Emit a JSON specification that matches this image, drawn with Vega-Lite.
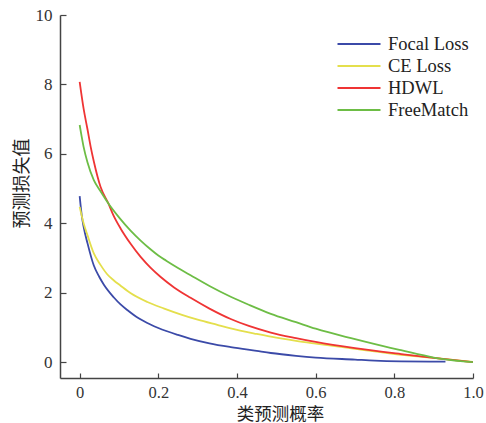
{
  "$schema": "https://vega.github.io/schema/vega-lite/v6.json",
  "autosize": {"type": "none"},
  "padding": {"left": 60, "top": 15, "right": 13, "bottom": 45},
  "width": 413,
  "height": 363,
  "background": "white",
  "config": {"view": {"stroke": null}},
  "datasets": {
    "curves": [
      {"series": "Focal Loss", "p": 0, "loss": 4.78},
      {"series": "Focal Loss", "p": 0.005, "loss": 4.25},
      {"series": "Focal Loss", "p": 0.01, "loss": 3.9},
      {"series": "Focal Loss", "p": 0.02, "loss": 3.42},
      {"series": "Focal Loss", "p": 0.036, "loss": 2.78},
      {"series": "Focal Loss", "p": 0.05, "loss": 2.45},
      {"series": "Focal Loss", "p": 0.062, "loss": 2.22},
      {"series": "Focal Loss", "p": 0.087, "loss": 1.86},
      {"series": "Focal Loss", "p": 0.104, "loss": 1.66},
      {"series": "Focal Loss", "p": 0.121, "loss": 1.5},
      {"series": "Focal Loss", "p": 0.15, "loss": 1.26},
      {"series": "Focal Loss", "p": 0.18, "loss": 1.08},
      {"series": "Focal Loss", "p": 0.2, "loss": 0.98},
      {"series": "Focal Loss", "p": 0.25, "loss": 0.78},
      {"series": "Focal Loss", "p": 0.282, "loss": 0.67},
      {"series": "Focal Loss", "p": 0.33, "loss": 0.54},
      {"series": "Focal Loss", "p": 0.384, "loss": 0.43},
      {"series": "Focal Loss", "p": 0.45, "loss": 0.32},
      {"series": "Focal Loss", "p": 0.486, "loss": 0.26},
      {"series": "Focal Loss", "p": 0.55, "loss": 0.18},
      {"series": "Focal Loss", "p": 0.6, "loss": 0.13},
      {"series": "Focal Loss", "p": 0.7, "loss": 0.07},
      {"series": "Focal Loss", "p": 0.75, "loss": 0.04},
      {"series": "Focal Loss", "p": 0.817, "loss": 0.02},
      {"series": "Focal Loss", "p": 0.93, "loss": 0.01},
      {"series": "CE Loss", "p": 0, "loss": 4.47},
      {"series": "CE Loss", "p": 0.01, "loss": 4.0},
      {"series": "CE Loss", "p": 0.02, "loss": 3.65},
      {"series": "CE Loss", "p": 0.036, "loss": 3.13},
      {"series": "CE Loss", "p": 0.053, "loss": 2.8},
      {"series": "CE Loss", "p": 0.07, "loss": 2.53},
      {"series": "CE Loss", "p": 0.087, "loss": 2.35},
      {"series": "CE Loss", "p": 0.104, "loss": 2.2},
      {"series": "CE Loss", "p": 0.13, "loss": 1.98},
      {"series": "CE Loss", "p": 0.172, "loss": 1.73},
      {"series": "CE Loss", "p": 0.215, "loss": 1.54},
      {"series": "CE Loss", "p": 0.26, "loss": 1.36},
      {"series": "CE Loss", "p": 0.3, "loss": 1.22},
      {"series": "CE Loss", "p": 0.35, "loss": 1.07},
      {"series": "CE Loss", "p": 0.384, "loss": 0.97},
      {"series": "CE Loss", "p": 0.45, "loss": 0.81},
      {"series": "CE Loss", "p": 0.486, "loss": 0.73},
      {"series": "CE Loss", "p": 0.55, "loss": 0.61},
      {"series": "CE Loss", "p": 0.6, "loss": 0.53},
      {"series": "CE Loss", "p": 0.7, "loss": 0.38},
      {"series": "CE Loss", "p": 0.817, "loss": 0.21},
      {"series": "CE Loss", "p": 0.9, "loss": 0.12},
      {"series": "CE Loss", "p": 1.0, "loss": 0.0},
      {"series": "HDWL", "p": 0, "loss": 8.07},
      {"series": "HDWL", "p": 0.01, "loss": 7.3},
      {"series": "HDWL", "p": 0.02, "loss": 6.7},
      {"series": "HDWL", "p": 0.028, "loss": 6.2},
      {"series": "HDWL", "p": 0.036, "loss": 5.78},
      {"series": "HDWL", "p": 0.053, "loss": 5.05},
      {"series": "HDWL", "p": 0.073, "loss": 4.57},
      {"series": "HDWL", "p": 0.085, "loss": 4.25},
      {"series": "HDWL", "p": 0.104, "loss": 3.85},
      {"series": "HDWL", "p": 0.13, "loss": 3.4},
      {"series": "HDWL", "p": 0.155, "loss": 3.03},
      {"series": "HDWL", "p": 0.18, "loss": 2.72},
      {"series": "HDWL", "p": 0.206, "loss": 2.45},
      {"series": "HDWL", "p": 0.24, "loss": 2.15},
      {"series": "HDWL", "p": 0.282, "loss": 1.85},
      {"series": "HDWL", "p": 0.33, "loss": 1.54},
      {"series": "HDWL", "p": 0.384, "loss": 1.24},
      {"series": "HDWL", "p": 0.43, "loss": 1.04},
      {"series": "HDWL", "p": 0.486, "loss": 0.85},
      {"series": "HDWL", "p": 0.55, "loss": 0.69},
      {"series": "HDWL", "p": 0.6, "loss": 0.58},
      {"series": "HDWL", "p": 0.7, "loss": 0.4},
      {"series": "HDWL", "p": 0.817, "loss": 0.23},
      {"series": "HDWL", "p": 0.9, "loss": 0.12},
      {"series": "HDWL", "p": 1.0, "loss": 0.0},
      {"series": "FreeMatch", "p": 0, "loss": 6.83},
      {"series": "FreeMatch", "p": 0.005, "loss": 6.5},
      {"series": "FreeMatch", "p": 0.01, "loss": 6.2},
      {"series": "FreeMatch", "p": 0.02, "loss": 5.75},
      {"series": "FreeMatch", "p": 0.036, "loss": 5.24},
      {"series": "FreeMatch", "p": 0.053, "loss": 4.92},
      {"series": "FreeMatch", "p": 0.073, "loss": 4.57},
      {"series": "FreeMatch", "p": 0.1, "loss": 4.17},
      {"series": "FreeMatch", "p": 0.13, "loss": 3.78},
      {"series": "FreeMatch", "p": 0.155, "loss": 3.5},
      {"series": "FreeMatch", "p": 0.18, "loss": 3.25},
      {"series": "FreeMatch", "p": 0.2, "loss": 3.07},
      {"series": "FreeMatch", "p": 0.22, "loss": 2.92},
      {"series": "FreeMatch", "p": 0.25, "loss": 2.71},
      {"series": "FreeMatch", "p": 0.282, "loss": 2.5},
      {"series": "FreeMatch", "p": 0.33, "loss": 2.19},
      {"series": "FreeMatch", "p": 0.384, "loss": 1.88},
      {"series": "FreeMatch", "p": 0.43, "loss": 1.65},
      {"series": "FreeMatch", "p": 0.486, "loss": 1.39},
      {"series": "FreeMatch", "p": 0.55, "loss": 1.15},
      {"series": "FreeMatch", "p": 0.6, "loss": 0.96},
      {"series": "FreeMatch", "p": 0.7, "loss": 0.66},
      {"series": "FreeMatch", "p": 0.79, "loss": 0.41},
      {"series": "FreeMatch", "p": 0.817, "loss": 0.34},
      {"series": "FreeMatch", "p": 0.9, "loss": 0.13},
      {"series": "FreeMatch", "p": 0.92, "loss": 0.09},
      {"series": "FreeMatch", "p": 1.0, "loss": 0.0}
    ]
  },
  "data": {"name": "curves"},
  "mark": {"type": "line", "strokeWidth": 1.8, "interpolate": "monotone", "clip": true},
  "encoding": {
    "x": {
      "field": "p", "type": "quantitative",
      "scale": {"domain": [-0.05, 1.0], "nice": false, "zero": false},
      "axis": {
        "title": "类预测概率",
        "values": [0, 0.2, 0.4, 0.6, 0.8, 1.0],
        "labelExpr": "datum.value == 0 ? '0' : format(datum.value, '.1f')",
        "grid": false,
        "domainColor": "#444", "domainWidth": 1.5,
        "tickColor": "#444", "tickWidth": 1.2, "tickSize": -5,
        "labelPadding": 11,
        "labelFont": "Liberation Serif", "labelFontSize": 16.5, "labelColor": "#333",
        "labelFlush": false,
        "titleFont": "Noto Sans CJK SC", "titleFontSize": 17.5, "titleFontWeight": "normal", "titleColor": "#222",
        "titleX": 220, "titleY": 41, "titleBaseline": "alphabetic"
      }
    },
    "y": {
      "field": "loss", "type": "quantitative",
      "scale": {"domain": [-0.46, 10], "nice": false, "zero": false},
      "axis": {
        "title": "预测损失值",
        "values": [0, 2, 4, 6, 8, 10],
        "grid": false,
        "domainColor": "#444", "domainWidth": 1.5,
        "tickColor": "#444", "tickWidth": 1.2, "tickSize": -6,
        "labelPadding": 14,
        "labelFont": "Liberation Serif", "labelFontSize": 17, "labelColor": "#333",
        "labelFlush": false,
        "titleFont": "Noto Sans CJK SC", "titleFontSize": 18, "titleFontWeight": "normal", "titleColor": "#222",
        "titleX": -29, "titleY": 168, "titleAngle": -90, "titleAlign": "center", "titleBaseline": "bottom"
      }
    },
    "color": {
      "field": "series", "type": "nominal",
      "scale": {
        "domain": ["Focal Loss", "CE Loss", "HDWL", "FreeMatch"],
        "range": ["#3b4aa8", "#e4df4c", "#ef3434", "#6dbd45"]
      },
      "legend": {
        "title": null,
        "orient": "none",
        "legendX": 287,
        "legendY": 17,
        "symbolType": "M-2,0H2",
        "symbolSize": 462,
        "symbolStrokeWidth": 2,
        "labelFont": "Liberation Serif",
        "labelFontSize": 18.5,
        "labelColor": "#222",
        "labelOffset": 17,
        "rowPadding": 0
      }
    }
  }
}
